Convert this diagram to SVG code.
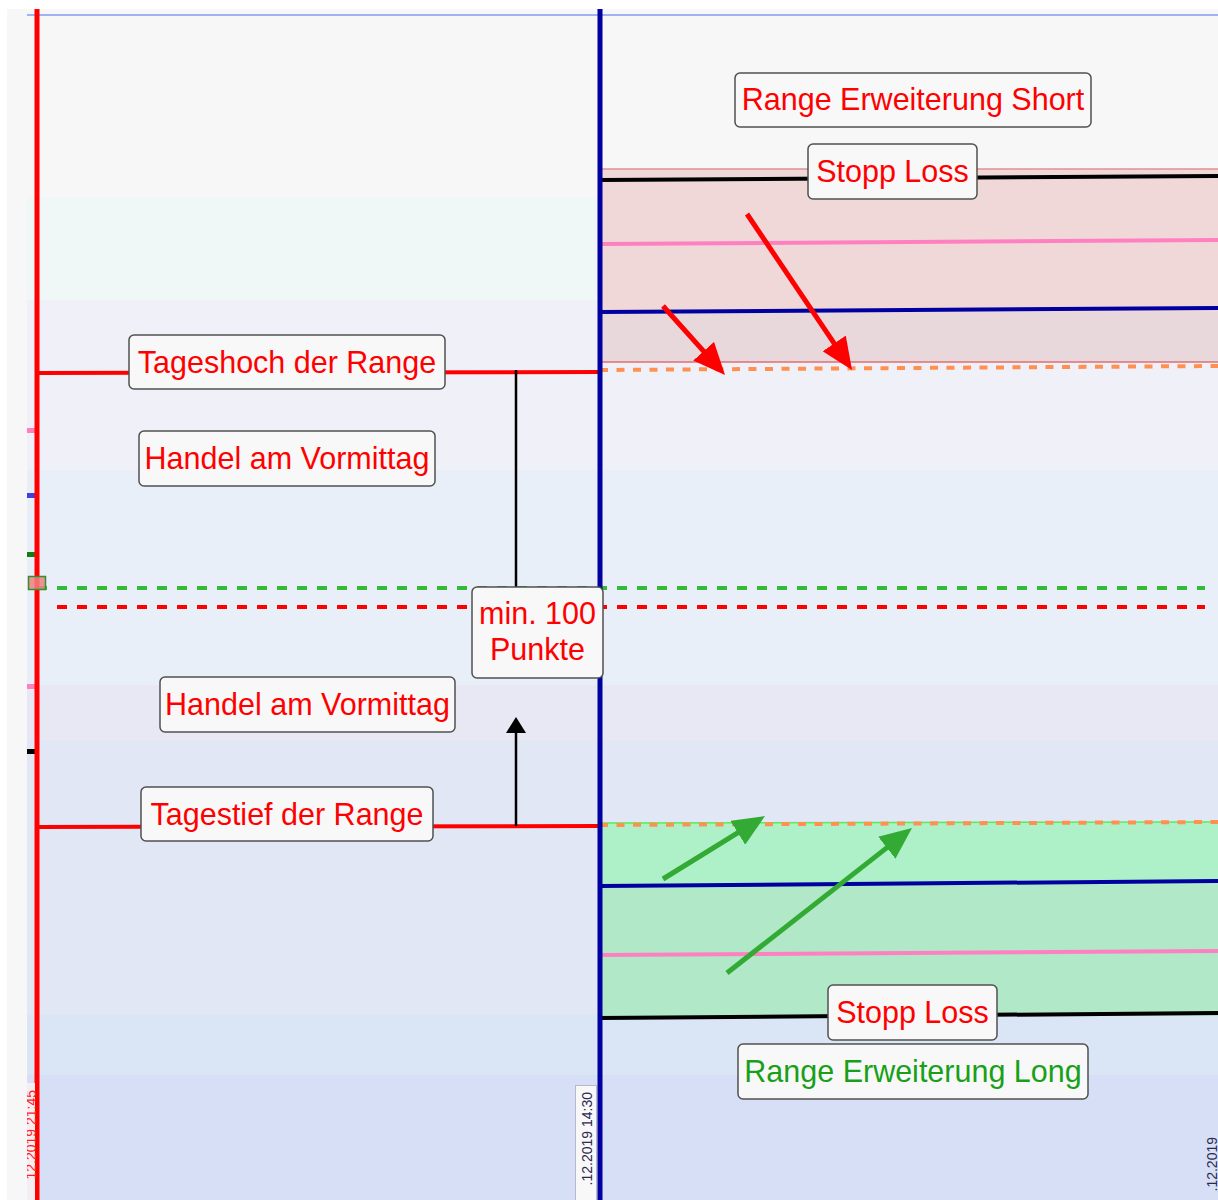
<svg xmlns="http://www.w3.org/2000/svg" width="1218" height="1200" viewBox="0 0 1218 1200">
<style>
.lbl{fill:#f8f8f8;stroke:#505050;stroke-width:1.5}
.t{font-family:"Liberation Sans",Arial,sans-serif;font-size:30.5px;text-anchor:middle;fill:#ff0000}
.g{fill:#18a018}
.d{font-family:"Liberation Sans",Arial,sans-serif;font-size:14px}
.ln{fill:none;stroke-width:4}
</style>
<defs>
<marker id="ar" viewBox="0 0 32 28" markerWidth="32" markerHeight="28" markerUnits="userSpaceOnUse" refX="16" refY="14" orient="auto"><path d="M0,0 L32,14 L0,28 z" fill="#ff0000"/></marker>
<marker id="ag" viewBox="0 0 32 28" markerWidth="32" markerHeight="28" markerUnits="userSpaceOnUse" refX="16" refY="14" orient="auto"><path d="M0,0 L32,14 L0,28 z" fill="#33aa33"/></marker>
<marker id="ab" viewBox="0 0 16 20" markerWidth="16" markerHeight="20" markerUnits="userSpaceOnUse" refX="8" refY="10" orient="auto"><path d="M0,0 L16,10 L0,20 z" fill="#000"/></marker>
</defs>
<rect width="1218" height="1200" fill="#ffffff"/>
<g id="background">
<rect x="7" y="9" width="1211" height="1191" fill="#f7f7f7"/>
<rect x="27" y="197" width="1191" height="103" fill="#f0f7f7"/>
<rect x="27" y="300" width="1191" height="170" fill="#eff0f8"/>
<rect x="27" y="470" width="1191" height="215" fill="#e8eff8"/>
<rect x="27" y="685" width="1191" height="55" fill="#e8e8f5"/>
<rect x="27" y="740" width="1191" height="275" fill="#e1e7f5"/>
<rect x="27" y="1015" width="1191" height="60" fill="#dae6f6"/>
<rect x="27" y="1075" width="1191" height="125" fill="#d7dff6"/>
<line x1="27" y1="15" x2="1218" y2="15" stroke="#a0b2f4" stroke-width="2"/>
</g>
<g id="zones">
<rect x="600" y="169" width="618" height="143" fill="#f0d8d8"/>
<rect x="600" y="312" width="618" height="50" fill="#e8d8dc"/>
<line x1="600" y1="169" x2="1218" y2="169" stroke="#e09090" stroke-width="1.5"/>
<line x1="600" y1="362" x2="1218" y2="362" stroke="#e07070" stroke-width="1.5"/>
<rect x="600" y="823" width="618" height="62" fill="#aef0c8"/>
<rect x="600" y="885" width="618" height="131" fill="#b0e8c8"/>
<line x1="600" y1="823" x2="1218" y2="822" stroke="#55ee55" stroke-width="1.5"/>
</g>
<g id="connectors">
<line class="ln" x1="600" y1="180" x2="1218" y2="176" stroke="#000"/>
<line class="ln" x1="600" y1="244" x2="1218" y2="240" stroke="#ff80c0"/>
<line class="ln" x1="600" y1="312" x2="1218" y2="308" stroke="#0000a0"/>
<line class="ln" x1="600" y1="370" x2="1218" y2="366" stroke="#ff9050" stroke-dasharray="8 8.5"/>
<line class="ln" x1="600" y1="825" x2="1218" y2="822" stroke="#ff9050" stroke-dasharray="8 8.5"/>
<line class="ln" x1="600" y1="886" x2="1218" y2="881" stroke="#0000a0"/>
<line class="ln" x1="600" y1="955" x2="1218" y2="951" stroke="#ff80c0"/>
<line class="ln" x1="600" y1="1018" x2="1218" y2="1013" stroke="#000"/>
<line class="ln" x1="37" y1="373" x2="600" y2="372" stroke="#ff0000"/>
<line class="ln" x1="37" y1="827" x2="600" y2="826" stroke="#ff0000"/>
<line class="ln" x1="37" y1="588" x2="1205" y2="588" stroke="#33bb33" stroke-dasharray="10 10"/>
<line class="ln" x1="57" y1="607" x2="1205" y2="607" stroke="#ff0000" stroke-dasharray="10 10"/>
<line x1="516" y1="370" x2="516" y2="590" stroke="#000" stroke-width="2.5"/>
<line x1="516" y1="826" x2="516" y2="725" stroke="#000" stroke-width="2.5" marker-end="url(#ab)"/>
<line x1="663" y1="306" x2="714.3" y2="363.1" stroke="#ff0000" stroke-width="5" marker-end="url(#ar)"/>
<line x1="747" y1="214" x2="843.1" y2="356.7" stroke="#ff0000" stroke-width="5" marker-end="url(#ar)"/>
<line x1="663" y1="879" x2="751.4" y2="824.4" stroke="#33aa33" stroke-width="5" marker-end="url(#ag)"/>
<line x1="727" y1="973" x2="899.4" y2="837.9" stroke="#33aa33" stroke-width="5" marker-end="url(#ag)"/>
<rect x="27" y="428" width="8" height="5" fill="#ff80c0"/>
<rect x="27" y="493" width="8" height="5" fill="#4040e0"/>
<rect x="27" y="552" width="8" height="5" fill="#108010"/>
<rect x="27" y="684" width="8" height="5" fill="#ff80c0"/>
<rect x="27" y="749" width="8" height="5" fill="#000"/>
<line x1="37" y1="9" x2="37" y2="1200" stroke="#ff0000" stroke-width="5"/>
<rect x="28.5" y="576.5" width="17" height="13" fill="#f08080" stroke="#309030" stroke-width="1.5" fill-opacity="0.85"/>
<line x1="600" y1="9" x2="600" y2="1200" stroke="#0000a0" stroke-width="5"/>
</g>
<g id="axis-labels">
<rect x="27" y="1083" width="8" height="117" fill="#f4eef2"/>
<text class="d" transform="translate(36,1090) rotate(-90)" text-anchor="end" fill="#ff2020">12.2019 21:45</text>
<rect x="0" y="1083" width="27" height="117" fill="#f7f7f7"/>
<rect x="0" y="1083" width="7" height="117" fill="#ffffff"/>
<rect x="575.5" y="1085.5" width="21" height="120" fill="#f8f8f8" stroke="#b8b8c8" stroke-width="1"/>
<text class="d" transform="translate(592,1092) rotate(-90)" text-anchor="end" fill="#2a2a50">.12.2019 14:30</text>
<text class="d" transform="translate(1217,1137) rotate(-90)" text-anchor="end" fill="#2a2a50">.12.2019</text>
</g>
<g id="n-short"><rect class="lbl" x="735" y="73" width="356" height="54" rx="5"/><text class="t" x="913" y="110">Range Erweiterung Short</text></g>
<g id="n-stop-top"><rect class="lbl" x="808" y="144" width="169" height="55" rx="5"/><text class="t" x="892.5" y="182">Stopp Loss</text></g>
<g id="n-hoch"><rect class="lbl" x="129" y="335" width="316" height="54" rx="5"/><text class="t" x="287" y="372.5">Tageshoch der Range</text></g>
<g id="n-handel1"><rect class="lbl" x="139" y="431" width="296" height="55" rx="5"/><text class="t" x="287" y="469">Handel am Vormittag</text></g>
<g id="n-min"><rect class="lbl" x="472" y="587" width="131" height="91" rx="5"/><text class="t" x="537.5" y="624">min. 100</text><text class="t" x="537.5" y="660">Punkte</text></g>
<g id="n-handel2"><rect class="lbl" x="160" y="677" width="295" height="55" rx="5"/><text class="t" x="307.5" y="715">Handel am Vormittag</text></g>
<g id="n-tief"><rect class="lbl" x="141" y="787" width="292" height="54" rx="5"/><text class="t" x="287" y="824.5">Tagestief der Range</text></g>
<g id="n-stop-bottom"><rect class="lbl" x="828" y="985" width="169" height="55" rx="5"/><text class="t" x="912.5" y="1023">Stopp Loss</text></g>
<g id="n-long"><rect class="lbl" x="738" y="1044" width="350" height="55" rx="5"/><text class="t g" x="913" y="1082">Range Erweiterung Long</text></g>
</svg>
